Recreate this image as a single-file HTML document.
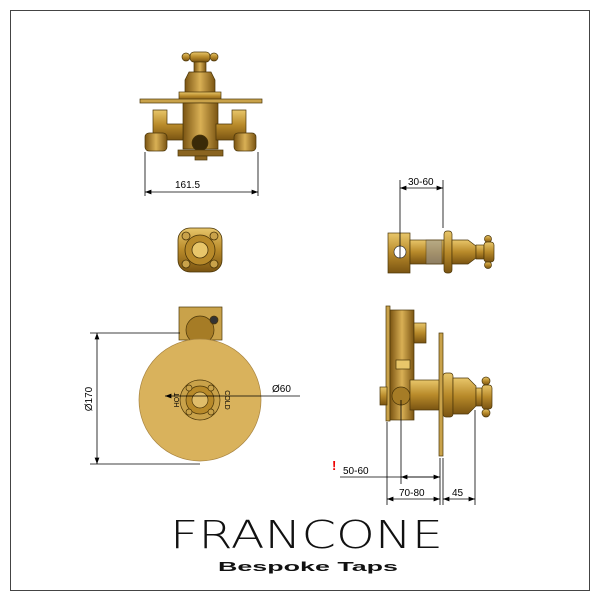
<!DOCTYPE html>
<html><head><style>
html,body{margin:0;padding:0;background:#fff;}
svg{display:block;}
text{font-family:"Liberation Sans",sans-serif;}
</style></head><body>
<svg width="600" height="601" viewBox="0 0 600 601" xmlns="http://www.w3.org/2000/svg">
<defs>
<linearGradient id="g" x1="0" y1="0" x2="0" y2="1">
<stop offset="0" stop-color="#e8c66a"/><stop offset="0.5" stop-color="#b88a2a"/><stop offset="1" stop-color="#7a5412"/>
</linearGradient>
<linearGradient id="gh" x1="0" y1="0" x2="1" y2="0">
<stop offset="0" stop-color="#7a5412"/><stop offset="0.5" stop-color="#d9b055"/><stop offset="1" stop-color="#7a5412"/>
</linearGradient>
<marker id="a" markerWidth="8" markerHeight="6" refX="8" refY="3" orient="auto-start-reverse"><path d="M0,0 L8,3 L0,6 z" fill="#000"/></marker>
</defs>
<rect x="10.5" y="10.5" width="579" height="580" fill="none" stroke="#444" stroke-width="1"/>

<!-- TOP VIEW -->
<g stroke="#4a3508" stroke-width="0.7">
<rect x="190" y="52" width="20" height="10" rx="4" fill="url(#g)"/>
<circle cx="186" cy="57" r="4" fill="url(#g)"/><circle cx="214" cy="57" r="4" fill="url(#g)"/>
<rect x="194" y="62" width="12" height="10" fill="url(#gh)"/>
<path d="M189,72 h22 l4,8 v14 h-30 v-14z" fill="url(#gh)"/>
<rect x="179" y="92" width="42" height="8" fill="url(#g)"/>
<rect x="140" y="99" width="122" height="4" fill="#c9a24a"/>
<rect x="183" y="103" width="35" height="46" fill="url(#gh)"/>
<path d="M153,110 h14 v14 h16 v16 h-20 v-6 h-10z" fill="url(#g)"/>
<path d="M246,110 h-14 v14 h-16 v16 h20 v-6 h10z" fill="url(#g)"/>
<rect x="145" y="133" width="22" height="18" rx="4" fill="url(#gh)"/>
<rect x="234" y="133" width="22" height="18" rx="4" fill="url(#gh)"/>
<circle cx="200" cy="143" r="8" fill="#3a2a08"/>
<rect x="178" y="150" width="45" height="6" fill="#8a6420"/>
<rect x="195" y="156" width="12" height="4" fill="#8a6420"/>
</g>
<g stroke="#000" stroke-width="0.8" fill="none">
<line x1="145" y1="152" x2="145" y2="196"/><line x1="258" y1="152" x2="258" y2="196"/>
<line x1="145" y1="192" x2="258" y2="192" marker-start="url(#a)" marker-end="url(#a)"/>
</g>
<text x="175" y="188" font-size="10">161.5</text>

<!-- knob view -->
<g stroke="#4a3508" stroke-width="0.8">
<rect x="178" y="228" width="44" height="44" rx="12" fill="url(#g)"/>
<circle cx="200" cy="250" r="15" fill="#b88a2a"/>
<circle cx="200" cy="250" r="8" fill="#e8c66a"/>
<circle cx="186" cy="236" r="4" fill="#c9a24a"/><circle cx="214" cy="236" r="4" fill="#c9a24a"/>
<circle cx="186" cy="264" r="4" fill="#c9a24a"/><circle cx="214" cy="264" r="4" fill="#c9a24a"/>
</g>

<!-- FRONT VIEW -->
<g stroke="#4a3508" stroke-width="0.7">
<rect x="179" y="307" width="43" height="33" fill="#c9a24a"/>
<circle cx="200" cy="330" r="14" fill="#a67c26"/>
<circle cx="214" cy="320" r="4" fill="#333"/>
<circle cx="200" cy="400" r="61" fill="#d9b25c" stroke="#a88440"/>
<circle cx="200" cy="400" r="20" fill="#c9a24a"/>
<circle cx="200" cy="400" r="14" fill="#b88a2a"/>
<circle cx="200" cy="400" r="8" fill="#e0bd6a"/>
<circle cx="189" cy="388" r="3" fill="#c9a24a"/><circle cx="211" cy="388" r="3" fill="#c9a24a"/>
<circle cx="189" cy="412" r="3" fill="#c9a24a"/><circle cx="211" cy="412" r="3" fill="#c9a24a"/>
</g>
<text x="179" y="400" font-size="7" transform="rotate(-90 179 400)" text-anchor="middle">HOT</text>
<text x="225" y="400" font-size="7" transform="rotate(90 225 400)" text-anchor="middle">COLD</text>
<g stroke="#000" stroke-width="0.8" fill="none">
<line x1="90" y1="333" x2="180" y2="333"/><line x1="90" y1="464" x2="200" y2="464"/>
<line x1="97" y1="333" x2="97" y2="464" marker-start="url(#a)" marker-end="url(#a)"/>
<line x1="165" y1="396" x2="300" y2="396" marker-start="url(#a)"/>
</g>
<text x="92" y="399" font-size="10" transform="rotate(-90 92 399)" text-anchor="middle">Ø170</text>
<text x="272" y="392" font-size="10">Ø60</text>

<!-- SIDE TOP -->
<g stroke="#4a3508" stroke-width="0.7">
<rect x="388" y="233" width="22" height="40" fill="url(#g)"/>
<circle cx="400" cy="252" r="6" fill="#fff" stroke="#333"/>
<rect x="410" y="240" width="34" height="24" fill="url(#g)"/>
<rect x="426" y="240" width="16" height="24" fill="#999" opacity="0.6"/>
<rect x="444" y="231" width="8" height="42" rx="3" fill="url(#g)"/>
<path d="M452,240 h16 l8,6 v12 l-8,6 h-16z" fill="url(#g)"/>
<rect x="476" y="245" width="8" height="14" fill="url(#g)"/>
<circle cx="488" cy="239" r="3.5" fill="url(#g)"/><circle cx="488" cy="265" r="3.5" fill="url(#g)"/>
<rect x="484" y="242" width="10" height="20" rx="3" fill="url(#g)"/>
</g>
<g stroke="#000" stroke-width="0.8" fill="none">
<line x1="400" y1="180" x2="400" y2="258"/><line x1="443" y1="180" x2="443" y2="228"/>
<line x1="400" y1="188" x2="443" y2="188" marker-start="url(#a)" marker-end="url(#a)"/>
</g>
<text x="408" y="185" font-size="10">30-60</text>

<!-- SIDE BOTTOM -->
<g stroke="#4a3508" stroke-width="0.7">
<rect x="386" y="306" width="4" height="115" fill="#c9a24a"/>
<rect x="390" y="310" width="24" height="110" fill="url(#gh)"/>
<rect x="396" y="360" width="14" height="9" fill="#e8c66a"/>
<rect x="414" y="323" width="12" height="20" fill="url(#g)"/>
<rect x="380" y="387" width="7" height="18" fill="url(#g)"/>
<circle cx="401" cy="396" r="9" fill="#a67c26"/>
<rect x="410" y="380" width="30" height="30" fill="url(#g)"/>
<rect x="439" y="333" width="4" height="123" fill="#c9a24a"/>
<rect x="443" y="373" width="10" height="44" rx="3" fill="url(#g)"/>
<path d="M453,378 h15 l8,8 v20 l-8,8 h-15z" fill="url(#g)"/>
<rect x="476" y="388" width="6" height="18" fill="url(#g)"/>
<circle cx="486" cy="381" r="4" fill="url(#g)"/><circle cx="486" cy="413" r="4" fill="url(#g)"/>
<rect x="482" y="385" width="10" height="24" rx="3" fill="url(#g)"/>
</g>
<g stroke="#000" stroke-width="0.8" fill="none">
<line x1="387" y1="422" x2="387" y2="505"/>
<line x1="401" y1="400" x2="401" y2="484"/>
<line x1="440" y1="458" x2="440" y2="505"/><line x1="443" y1="458" x2="443" y2="505"/>
<line x1="475" y1="410" x2="475" y2="505"/>
<line x1="340" y1="477" x2="440" y2="477"/>
<line x1="401" y1="477" x2="440" y2="477" marker-start="url(#a)" marker-end="url(#a)"/>
<line x1="387" y1="499" x2="440" y2="499" marker-start="url(#a)" marker-end="url(#a)"/>
<line x1="443" y1="499" x2="475" y2="499" marker-start="url(#a)" marker-end="url(#a)"/>
</g>
<text x="332" y="470" font-size="13" fill="#e00" font-weight="bold">!</text>
<text x="343" y="474" font-size="10">50-60</text>
<text x="399" y="496" font-size="10">70-80</text>
<text x="452" y="496" font-size="10">45</text>

<!-- LOGO -->
<text x="170" y="548" font-size="38" fill="#111" style="font-family:'DejaVu Sans',sans-serif;font-weight:200" textLength="273" lengthAdjust="spacingAndGlyphs">FRANCONE</text>
<text x="218" y="571" font-size="13" font-weight="bold" fill="#111" textLength="180" lengthAdjust="spacingAndGlyphs">Bespoke Taps</text>
</svg>
</body></html>
